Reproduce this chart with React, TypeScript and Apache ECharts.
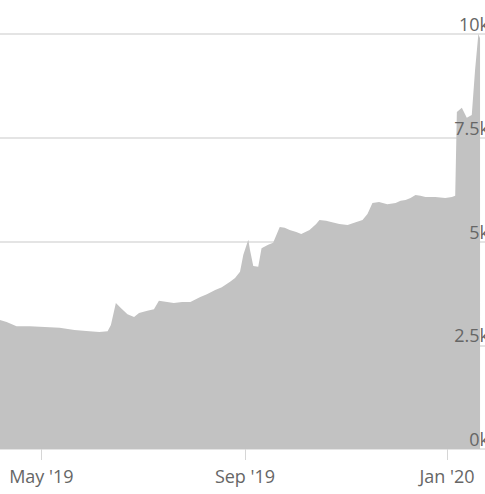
import React, { useEffect, useRef } from "react";
import * as echarts from "echarts";

const dates = [
  "2019-04-06", "2019-04-10", "2019-04-16", "2019-04-24", "2019-05-03", "2019-05-12",
  "2019-05-21", "2019-05-30", "2019-06-05", "2019-06-10", "2019-06-12", "2019-06-15",
  "2019-06-18", "2019-06-22", "2019-06-26", "2019-06-29", "2019-07-04", "2019-07-08",
  "2019-07-11", "2019-07-16", "2019-07-20", "2019-07-25", "2019-07-30", "2019-08-05",
  "2019-08-09", "2019-08-14", "2019-08-18", "2019-08-23", "2019-08-26", "2019-08-29",
  "2019-08-31", "2019-09-03", "2019-09-04", "2019-09-06", "2019-09-09", "2019-09-11",
  "2019-09-15", "2019-09-18", "2019-09-22", "2019-09-25", "2019-09-28", "2019-10-02",
  "2019-10-05", "2019-10-10", "2019-10-14", "2019-10-16", "2019-10-20", "2019-10-23",
  "2019-10-28", "2019-11-02", "2019-11-06", "2019-11-11", "2019-11-14", "2019-11-17",
  "2019-11-21", "2019-11-26", "2019-12-01", "2019-12-04", "2019-12-07", "2019-12-10",
  "2019-12-13", "2019-12-16", "2019-12-19", "2019-12-25", "2019-12-31", "2020-01-04",
  "2020-01-06", "2020-01-07", "2020-01-10", "2020-01-13", "2020-01-16", "2020-01-18",
  "2020-01-20", "2020-01-21",
];

const values = [
  3110, 3060, 2960, 2960, 2940, 2920,
  2870, 2840, 2820, 2840, 2990, 3520,
  3400, 3250, 3180, 3280, 3330, 3370,
  3570, 3540, 3520, 3540, 3540, 3660,
  3730, 3830, 3900, 4030, 4120, 4270,
  4680, 5040, 4800, 4410, 4390, 4840,
  4920, 4970, 5350, 5330, 5280, 5230,
  5180, 5280, 5420, 5520, 5500, 5470,
  5420, 5400, 5450, 5520, 5660, 5930,
  5950, 5900, 5930, 5980, 6000, 6050,
  6120, 6100, 6070, 6070, 6050, 6070,
  6100, 8120, 8220, 7980, 8050, 9130,
  10000, 9900,
];

const xTickDates = ["2019-05-01", "2019-09-01", "2020-01-01"];
const xTickLabels = ["May '19", "Sep '19", "Jan '20"];
const yTicks = [0, 2500, 5000, 7500, 10000];
const xRange = ["2019-04-06", "2020-01-24"];

const FONT = "'Open Sans', 'DejaVu Sans', sans-serif";

export default function App() {
  const ref = useRef<HTMLDivElement>(null);

  useEffect(() => {
    document.body.style.margin = "0";
    if (!ref.current) return;
    const chart = echarts.init(ref.current, null, { renderer: "svg" });
    const ts = (d: string) => new Date(d + "T00:00:00Z").getTime();
    const tickTs = xTickDates.map(ts);
    const labelFor = (v: number) => {
      const i = tickTs.indexOf(v);
      return i >= 0 ? xTickLabels[i] : "";
    };

    chart.setOption({
      animation: false,
      grid: {
        left: 0,
        right: 0,
        top: 34,
        bottom: 45,
        containLabel: false,
        outerBoundsMode: "none",
      },
      xAxis: {
        type: "value",
        min: ts(xRange[0]),
        max: ts(xRange[1]),
        axisLine: { show: false },
        axisTick: {
          show: true,
          length: 11,
          customValues: tickTs,
          lineStyle: { color: "#d6d6d6", width: 1 },
        },
        axisLabel: {
          customValues: tickTs,
          formatter: (v: number) => labelFor(v),
          color: "#666666",
          fontSize: 18,
          fontFamily: FONT,
          margin: 18,
          hideOverlap: false,
        },
        splitLine: { show: false },
      },
      yAxis: [
        {
          type: "value",
          position: "right",
          min: yTicks[0],
          max: yTicks[yTicks.length - 1],
          interval: 2500,
          axisLine: { show: false },
          axisTick: { show: false },
          axisLabel: { show: false },
          splitLine: { show: true, lineStyle: { color: "#e4e4e4", width: 2 } },
          z: 0,
        },
        {
          type: "value",
          position: "right",
          min: yTicks[0],
          max: yTicks[yTicks.length - 1],
          interval: 2500,
          axisLine: { show: false },
          axisTick: { show: false },
          splitLine: { show: false },
          axisLabel: {
            inside: true,
            margin: -4,
            verticalAlign: "bottom",
            padding: [0, 0, 1, 0],
            color: "#666666",
            fontSize: 18,
            fontFamily: FONT,
            formatter: (v: number) => v / 1000 + "k",
          },
          z: 10,
        },
      ],
      series: [
        {
          type: "line",
          yAxisIndex: 0,
          data: dates.map((d, i) => [ts(d), values[i]]),
          symbol: "none",
          lineStyle: { width: 0, color: "#c2c2c2" },
          areaStyle: { color: "#c2c2c2", opacity: 1 },
          z: 2,
        },
      ],
    });
    return () => chart.dispose();
  }, []);

  return <div ref={ref} style={{ width: 485, height: 494 }} />;
}
